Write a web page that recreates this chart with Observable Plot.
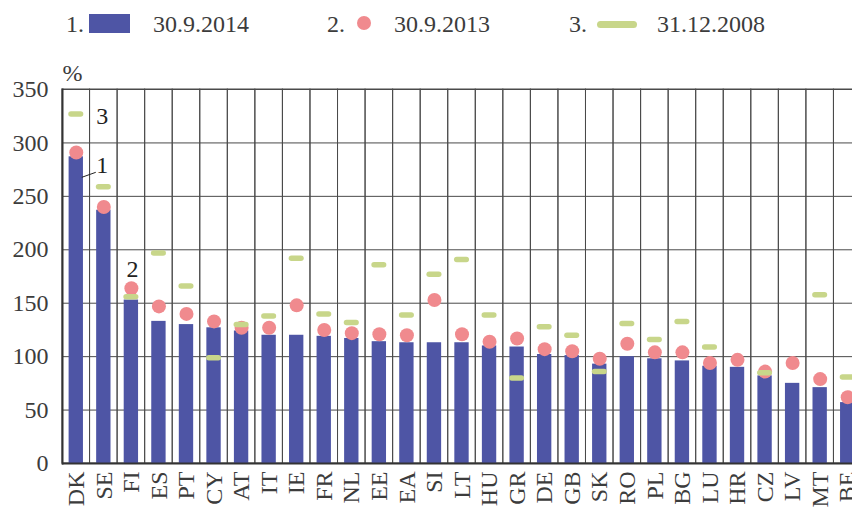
<!DOCTYPE html>
<html>
<head>
<meta charset="utf-8">
<script src="https://cdn.jsdelivr.net/npm/d3@7"></script>
<script src="https://cdn.jsdelivr.net/npm/@observablehq/plot@0.6"></script>
<style>
  html, body { margin: 0; padding: 0; background: #fff; overflow: hidden; }
  #wrap { position: relative; width: 852px; height: 507px; overflow: hidden; font-family: "Liberation Serif", serif; color: #3c3c3c; }
  #legend { position: relative; height: 45px; font-size: 24px; }
  #legend span, #legend i { position: absolute; }
  #chart { position: absolute; left: 0; top: 45px; width: 861px; }
  #chart svg { max-width: none !important; }
</style>
</head>
<body>
<div id="wrap">
  <div id="legend"></div>
  <div id="chart"></div>
</div>
<script>
const countries = ["DK","SE","FI","ES","PT","CY","AT","IT","IE","FR","NL","EE","EA","SI","LT","HU","GR","DE","GB","SK","RO","PL","BG","LU","HR","CZ","LV","MT","BE"];
const sep2014 = [287,237,153,133,130,127,124,120,120,119,117,114,113,113,113,110,109,102,101,93,100,98,96,91,90,82,75,71,57];
const sep2013 = [291,240,164,147,140,133,127,127,148,125,122,121,120,153,121,114,117,107,105,98,112,104,104,94,97,86,94,79,62];
const dec2008 = [327,259,156,197,166,99,130,138,192,140,132,186,139,177,191,139,80,128,120,86,131,116,133,109,null,85,null,158,81];
const seriesNames = ["30.9.2014","30.9.2013","31.12.2008"];
const yTicks = [0,50,100,150,200,250,300,350];

const data = countries.map((c, i) => ({c, a: sep2014[i], b: sep2013[i], d: dec2008[i]}));

const BAR = "#4e55a5", DOT = "#f08a8e", DASH = "#c8d68a", GRID = "#4a4a4a";

// legend
const lg = document.getElementById("legend");
lg.innerHTML = `
  <span style="left:66px;top:11px">1.</span>
  <i style="left:89px;top:14px;width:41px;height:19px;background:${BAR}"></i>
  <span style="left:153px;top:11px">${seriesNames[0]}</span>
  <span style="left:327px;top:11px">2.</span>
  <i style="left:357px;top:16px;width:14px;height:14px;border-radius:50%;background:${DOT}"></i>
  <span style="left:394px;top:11px">${seriesNames[1]}</span>
  <span style="left:569px;top:11px">3.</span>
  <i style="left:597px;top:21px;width:40px;height:7px;border-radius:4px;background:${DASH}"></i>
  <span style="left:657px;top:11px">${seriesNames[2]}</span>`;

const leader = (index, scales) => {
  const x = scales.x, y = scales.y;
  const bw = x.bandwidth ? x.bandwidth() : 0;
  const cx = x("DK") + bw / 2;
  const cy = y(sep2014[0]);
  const g = d3.create("svg:g");
  g.append("line")
    .attr("x1", cx + 6).attr("y1", cy + 21)
    .attr("x2", cx + 20).attr("y2", cy + 16)
    .attr("stroke", "#222").attr("stroke-width", 1);
  return g.node();
};

const chart = Plot.plot({
  width: 861,
  height: 462,
  marginLeft: 62,
  marginRight: 0,
  marginTop: 44,
  marginBottom: 44,
  style: {fontFamily: "Liberation Serif, serif", fontSize: "24px", color: "#3c3c3c", background: "transparent", maxWidth: "none"},
  x: {type: "band", domain: countries, padding: 0, round: false, axis: null},
  y: {domain: [0, 350], axis: null},
  marks: [
    Plot.barY(countries, {x: d => d, y1: 0, y2: 350, fill: "none", stroke: GRID, strokeWidth: 1}),
    Plot.ruleY(yTicks, {stroke: GRID, strokeWidth: 1}),
    Plot.barY(data, {x: "c", y: "a", fill: BAR, insetLeft: 6.6, insetRight: 6.6}),
    Plot.dot(data, {x: "c", y: "b", r: 7, fill: DOT}),
    Plot.tickY(data.filter(d => d.d != null), {x: "c", y: "d", stroke: DASH, strokeWidth: 5.5, strokeLinecap: "round", insetLeft: 9, insetRight: 9}),
    Plot.ruleY([0], {stroke: "#333", strokeWidth: 2}),
    Plot.frame({anchor: "left", stroke: "#333", strokeWidth: 2}),
    Plot.axisY({ticks: yTicks, tickSize: 0, tickPadding: 14, label: null, dy: 0, fill: "#3c3c3c"}),
    Plot.axisX({tickSize: 0, tickPadding: 8, tickRotate: -90, label: null, fill: "#3c3c3c"}),
    Plot.text(["%"], {frameAnchor: "top-left", dy: -26, dx: 0, textAnchor: "start", fill: "#3c3c3c"}),
    Plot.text([data[0]], {x: "c", y: "d", text: () => "3", dx: 26, dy: 2, fill: "#222"}),
    Plot.text([data[0]], {x: "c", y: "a", text: () => "1", dx: 26, dy: 8, fill: "#222"}),
    Plot.text([data[2]], {x: "c", y: "b", text: () => "2", dx: 1, dy: -19, fill: "#222"}),
    leader
  ]
});
document.getElementById("chart").appendChild(chart);
</script>
</body>
</html>
